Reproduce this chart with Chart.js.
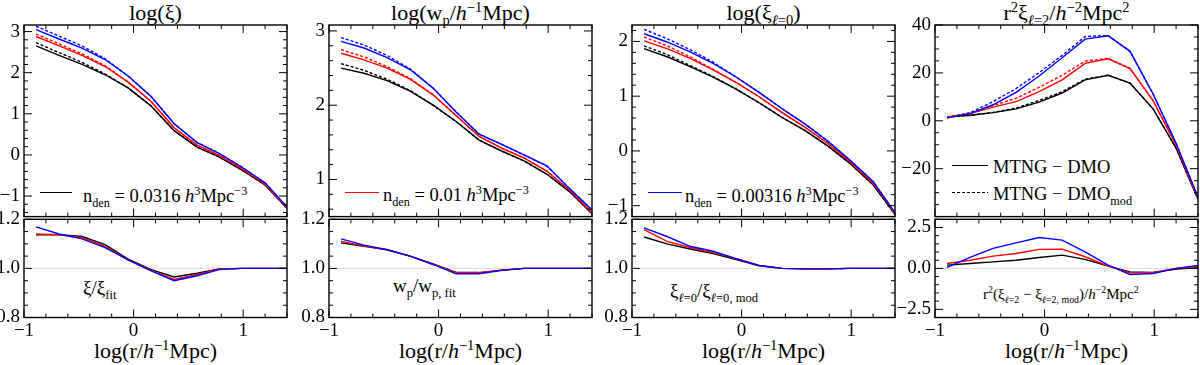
<!DOCTYPE html>
<html lang="en">
<head>
<meta charset="UTF-8">
<title>MTNG vs DMO clustering</title>
<script src="https://cdn.jsdelivr.net/npm/chart.js"></script>
<style>
  body { margin: 0; background: #fff; }
  #wrap { position: relative; width: 1200px; height: 365px; overflow: hidden;
          font-family: "Liberation Serif", "Times New Roman", serif; color: #000; }
  canvas { position: absolute; }
  .t { position: absolute; white-space: nowrap; line-height: 1; }
  .ttl { font-size: 22px; text-align: center; top: 1.6px; width: 263px; }
  .xt { font-size: 22px; text-align: center; top: 339.6px; width: 263px; }
  .lg { font-size: 18.5px; }
  .sm { font-size: 19px; }
  sub, sup { font-size: 0.66em; line-height: 0; }
  .ln { position: absolute; height: 1px; width: 34px; }
</style>
</head>
<body>
<div id="wrap">
  <!-- panel titles -->
  <div class="t ttl" style="left:24px">log(ξ)</div>
  <div class="t ttl" style="left:329px">log(w<sub>p</sub>/<i>h</i><sup>−1</sup>Mpc)</div>
  <div class="t ttl" style="left:632px">log(ξ<sub><i>ℓ</i>=0</sub>)</div>
  <div class="t ttl" style="left:935px">r<sup>2</sup>ξ<sub><i>ℓ</i>=2</sub>/<i>h</i><sup>−2</sup>Mpc<sup>2</sup></div>

  <!-- x axis titles -->
  <div class="t xt" style="left:24px">log(r/<i>h</i><sup>−1</sup>Mpc)</div>
  <div class="t xt" style="left:329px">log(r/<i>h</i><sup>−1</sup>Mpc)</div>
  <div class="t xt" style="left:632px">log(r/<i>h</i><sup>−1</sup>Mpc)</div>
  <div class="t xt" style="left:935px">log(r/<i>h</i><sup>−1</sup>Mpc)</div>

  <!-- legends -->
  <div class="ln" style="left:40px;top:192px;width:32px;background:#000"></div>
  <div class="t lg" style="left:83px;top:186.5px">n<sub>den</sub> = 0.0316 <i>h</i><sup>3</sup>Mpc<sup>−3</sup></div>
  <div class="ln" style="left:345px;top:191.5px;background:#f00"></div>
  <div class="t lg" style="left:383px;top:185.5px">n<sub>den</sub> = 0.01 <i>h</i><sup>3</sup>Mpc<sup>−3</sup></div>
  <div class="ln" style="left:648px;top:191.5px;background:#00f"></div>
  <div class="t lg" style="left:685px;top:186.5px">n<sub>den</sub> = 0.00316 <i>h</i><sup>3</sup>Mpc<sup>−3</sup></div>
  <div class="ln" style="left:952px;top:165px;width:36px;background:#000"></div>
  <div class="t lg" style="left:993px;top:157.5px">MTNG − DMO</div>
  <div class="ln" style="left:952px;top:192px;width:36px;background:repeating-linear-gradient(to right,#000 0 3px,transparent 3px 5px)"></div>
  <div class="t lg" style="left:993px;top:184.5px">MTNG − DMO<sub>mod</sub></div>

  <!-- ratio labels -->
  <div class="t sm" style="left:83px;top:278px">ξ/ξ<sub>fit</sub></div>
  <div class="t sm" style="left:393px;top:276px">w<sub>p</sub>/w<sub>p, fit</sub></div>
  <div class="t sm" style="left:670px;top:281px">ξ<sub><i>ℓ</i>=0</sub>/ξ<sub><i>ℓ</i>=0, mod</sub></div>
  <div class="t" style="left:983px;top:287.4px;font-size:15px">r<sup>2</sup>(ξ<sub><i>ℓ</i>=2</sub> − ξ<sub><i>ℓ</i>=2, mod</sub>)/<i>h</i><sup>−2</sup>Mpc<sup>2</sup></div>
</div>

<script>
// separation bins
const logR = [-0.89, -0.68, -0.47, -0.26, -0.05, 0.16, 0.37, 0.58, 0.78, 0.99, 1.2, 1.4];

// log(xi)
const xiBlack    = [2.65, 2.42, 2.20, 1.95, 1.63, 1.19, 0.59, 0.19, -0.05, -0.37, -0.73, -1.30];
const xiRed      = [2.88, 2.65, 2.42, 2.15, 1.77, 1.30, 0.66, 0.24, -0.01, -0.34, -0.71, -1.29];
const xiBlue     = [3.05, 2.82, 2.60, 2.32, 1.92, 1.42, 0.76, 0.30, 0.04, -0.30, -0.68, -1.27];
const xiBlackMod = [2.73, 2.49, 2.25, 1.97, 1.63, 1.19, 0.59, 0.19, -0.05, -0.37, -0.73, -1.30];
const xiRedMod   = [2.94, 2.70, 2.46, 2.17, 1.77, 1.30, 0.66, 0.24, -0.01, -0.34, -0.71, -1.29];
const xiBlueMod  = [3.13, 2.89, 2.65, 2.34, 1.92, 1.42, 0.76, 0.30, 0.04, -0.30, -0.68, -1.27];
const xiRatBlack = [1.137, 1.137, 1.13, 1.097, 1.038, 0.995, 0.965, 0.98, 0.998, 1.0, 1.0, 1.0];
const xiRatRed   = [1.14, 1.137, 1.125, 1.09, 1.035, 0.992, 0.955, 0.975, 0.997, 1.0, 1.0, 1.0];
const xiRatBlue  = [1.169, 1.14, 1.12, 1.085, 1.035, 0.99, 0.95, 0.97, 0.995, 1.0, 1.0, 1.0];

// log(wp)
const wpBlack    = [2.50, 2.43, 2.33, 2.19, 2.00, 1.78, 1.53, 1.38, 1.25, 1.07, 0.83, 0.54];
const wpRed      = [2.70, 2.61, 2.50, 2.35, 2.14, 1.86, 1.58, 1.42, 1.29, 1.11, 0.85, 0.55];
const wpBlue     = [2.86, 2.77, 2.64, 2.48, 2.23, 1.91, 1.61, 1.47, 1.33, 1.18, 0.87, 0.59];
const wpBlackMod = [2.56, 2.47, 2.35, 2.20, 2.00, 1.78, 1.53, 1.38, 1.25, 1.07, 0.83, 0.54];
const wpRedMod   = [2.75, 2.65, 2.52, 2.36, 2.14, 1.86, 1.58, 1.42, 1.29, 1.11, 0.85, 0.55];
const wpBlueMod  = [2.91, 2.81, 2.67, 2.49, 2.23, 1.91, 1.61, 1.47, 1.33, 1.18, 0.87, 0.59];
const wpRatBlack = [1.104, 1.09, 1.076, 1.05, 1.018, 0.984, 0.983, 0.993, 1.0, 1.0, 1.0, 1.0];
const wpRatRed   = [1.11, 1.092, 1.076, 1.05, 1.017, 0.982, 0.982, 0.993, 1.0, 1.0, 1.0, 1.0];
const wpRatBlue  = [1.12, 1.095, 1.076, 1.05, 1.016, 0.978, 0.978, 0.992, 1.0, 1.0, 1.0, 1.0];

// log(xi_0)
const x0Black    = [1.87, 1.72, 1.54, 1.35, 1.13, 0.88, 0.61, 0.37, 0.10, -0.23, -0.62, -1.16];
const x0Red      = [2.01, 1.87, 1.69, 1.48, 1.25, 0.99, 0.70, 0.43, 0.15, -0.20, -0.59, -1.15];
const x0Blue     = [2.14, 1.99, 1.81, 1.60, 1.35, 1.07, 0.77, 0.49, 0.19, -0.17, -0.56, -1.13];
const x0BlackMod = [1.92, 1.76, 1.56, 1.36, 1.13, 0.88, 0.61, 0.37, 0.10, -0.23, -0.62, -1.16];
const x0RedMod   = [2.08, 1.92, 1.72, 1.49, 1.25, 0.99, 0.70, 0.43, 0.15, -0.20, -0.59, -1.15];
const x0BlueMod  = [2.22, 2.05, 1.85, 1.62, 1.35, 1.07, 0.77, 0.49, 0.19, -0.17, -0.56, -1.13];
const x0RatBlack = [1.128, 1.10, 1.079, 1.06, 1.036, 1.011, 1.0, 0.998, 0.998, 1.0, 1.0, 1.0];
const x0RatRed   = [1.158, 1.11, 1.085, 1.065, 1.04, 1.012, 1.0, 0.998, 0.998, 1.0, 1.0, 1.0];
const x0RatBlue  = [1.165, 1.13, 1.09, 1.07, 1.04, 1.012, 1.0, 0.998, 0.998, 1.0, 1.0, 1.0];

// r^2 xi_2
const q2Black    = [1.6, 2.3, 3.4, 5.0, 7.8, 11.6, 17.1, 19.0, 15.7, 5.0, -11.4, -32.7];
const q2Red      = [1.6, 3.0, 5.7, 8.0, 12.2, 17.1, 24.0, 25.9, 21.8, 8.4, -10.1, -32.7];
const q2Blue     = [1.2, 3.0, 6.7, 11.9, 18.7, 26.3, 34.1, 35.5, 29.0, 11.2, -9.4, -32.0];
const q2BlackMod = [1.6, 2.3, 3.5, 5.3, 8.5, 12.1, 17.4, 19.0, 15.7, 5.0, -11.4, -32.7];
const q2RedMod   = [1.6, 3.2, 6.4, 9.4, 14.0, 19.0, 24.9, 26.1, 21.8, 8.4, -10.1, -32.7];
const q2BlueMod  = [1.2, 3.4, 8.0, 13.5, 20.1, 27.3, 35.2, 35.6, 29.0, 11.2, -9.4, -32.0];
const q2DifBlack = [0.2, 0.3, 0.4, 0.5, 0.67, 0.81, 0.55, 0.14, -0.21, -0.25, -0.04, 0.04];
const q2DifRed   = [0.3, 0.5, 0.75, 0.91, 1.16, 1.18, 0.71, 0.14, -0.27, -0.25, 0.0, 0.1];
const q2DifBlue  = [0.06, 0.67, 1.22, 1.56, 1.89, 1.73, 1.01, 0.2, -0.37, -0.31, 0.0, 0.18];

// reference lines in ratio panels
const refX = [-1, 1.4];
const refOne = [1, 1];
const refZero = [0, 0];

// ticks
const xTicks = [-1, 0, 1];
const xTickLabels = ['−1', '0', '1'];
const xiTicks = [-1, 0, 1, 2, 3];
const xiTickLabels = ['−1', '0', '1', '2', '3'];
const wpTicks = [1, 2, 3];
const wpTickLabels = ['1', '2', '3'];
const x0Ticks = [-1, 0, 1, 2];
const x0TickLabels = ['−1', '0', '1', '2'];
const q2Ticks = [-20, 0, 20, 40];
const q2TickLabels = ['−20', '0', '20', '40'];
const ratTicks = [0.8, 1.0, 1.2];
const ratTickLabels = ['0.8', '1.0', '1.2'];
const difTicks = [-2.5, 0, 2.5];
const difTickLabels = ['−2.5', '0.0', '2.5'];

Chart.defaults.font.family = 'Liberation Serif';
const FONT = {family: 'Liberation Serif', size: 19};

// frame + inward ticks on all four sides
const frameTicks = {
    id: 'frameTicks',
    afterDatasetsDraw(chart, args, o) {
        const ctx = chart.ctx, a = chart.chartArea;
        const sx = chart.scales.x, sy = chart.scales.y;
        function marks(scale, major, step) {
            const out = major.map(v => [v, 8]);
            for (let k = Math.ceil(scale.min / step - 1e-6); k * step <= scale.max + 1e-9; k++) {
                const v = k * step;
                if (!major.some(m => Math.abs(m - v) < step / 10)) out.push([v, 4]);
            }
            return out;
        }
        ctx.save();
        ctx.strokeStyle = '#000';
        ctx.lineWidth = 1;
        ctx.beginPath();
        marks(sx, o.xMajor, o.xMinor).forEach(([v, len]) => {
            const p = sx.getPixelForValue(v);
            ctx.moveTo(p, a.top); ctx.lineTo(p, a.top + len);
            ctx.moveTo(p, a.bottom); ctx.lineTo(p, a.bottom - len);
        });
        marks(sy, o.yMajor, o.yMinor).forEach(([v, len]) => {
            const p = sy.getPixelForValue(v);
            ctx.moveTo(a.left, p); ctx.lineTo(a.left + len, p);
            ctx.moveTo(a.right, p); ctx.lineTo(a.right - len, p);
        });
        ctx.stroke();
        ctx.lineWidth = 1.4;
        ctx.strokeRect(a.left, a.top, a.right - a.left, a.bottom - a.top);
        ctx.restore();
    }
};

function line(ys, color, dashed, order, xs) {
    xs = xs || logR;
    return {
        data: xs.map((x, i) => ({x: x, y: ys[i]})),
        borderColor: color,
        borderWidth: dashed === 'ref' ? 1 : 1.4,
        borderDash: dashed === true ? [3, 2] : [],
        pointRadius: 0,
        tension: 0,
        fill: false,
        order: order
    };
}

const AXW = 45;

function makeChart(col, top, height, datasets, o) {
    const c = document.createElement('canvas');
    const w = col.R - col.L + AXW + 10;
    c.width = w; c.height = height;
    c.style.left = (col.L - AXW) + 'px';
    c.style.top = top + 'px';
    document.getElementById('wrap').appendChild(c);
    return new Chart(c, {
        type: 'line',
        data: {datasets: datasets},
        options: {
            responsive: false,
            animation: false,
            events: [],
            layout: {autoPadding: false, padding: {left: 0, right: 10, top: o.padTop, bottom: o.padBottom}},
            plugins: {
                legend: {display: false},
                tooltip: {enabled: false},
                frameTicks: {xMajor: xTicks, xMinor: 0.2, yMajor: o.yTicks, yMinor: o.yMinor}
            },
            scales: {
                x: {
                    type: 'linear', min: -1, max: 1.4,
                    display: o.showX,
                    grid: {display: false, drawTicks: false},
                    border: {display: false},
                    ticks: {font: FONT, color: '#000', padding: 2, autoSkip: false, maxRotation: 0,
                        callback: (v, i) => xTickLabels[i]},
                    afterBuildTicks: s => { s.ticks = xTicks.map(v => ({value: v})); },
                    afterFit: s => { s.height = o.showX ? 28 : 0; }
                },
                y: {
                    type: 'linear', min: o.yMin, max: o.yMax,
                    grid: {display: false, drawTicks: false},
                    border: {display: false},
                    ticks: {font: FONT, color: '#000', padding: 4, autoSkip: false,
                        callback: (v, i) => o.yLabels[i]},
                    afterBuildTicks: s => { s.ticks = o.yTicks.map(v => ({value: v})); },
                    afterFit: s => { s.width = AXW; }
                }
            }
        },
        plugins: [frameTicks]
    });
}

const cols = [{L: 24, R: 287}, {L: 329, R: 592}, {L: 632, R: 895}, {L: 935, R: 1198}];
const TOP_H = 232, PLOT_TOP = 25, MID = 219.3, BOT_TOP = 200, BOT_H = 150, PLOT_BOT = 317.5;

function topPanel(col, sets, yMin, yMax, yTicks, yLabels, yMinor) {
    makeChart(col, 0, TOP_H, sets, {
        padTop: PLOT_TOP, padBottom: TOP_H - MID, showX: false,
        yMin: yMin, yMax: yMax, yTicks: yTicks, yLabels: yLabels, yMinor: yMinor
    });
}

function botPanel(col, sets, yMin, yMax, yTicks, yLabels, yMinor) {
    makeChart(col, BOT_TOP, BOT_H, sets, {
        padTop: MID - BOT_TOP, padBottom: BOT_H - (PLOT_BOT - BOT_TOP) - 28, showX: true,
        yMin: yMin, yMax: yMax, yTicks: yTicks, yLabels: yLabels, yMinor: yMinor
    });
}

function trio(b, r, u, bm, rm, um) {
    return [
        line(u, '#0000ff', false, 0), line(r, '#ff0000', false, 1), line(b, '#000000', false, 2),
        line(um, '#0000ff', true, 3), line(rm, '#ff0000', true, 4), line(bm, '#000000', true, 5)
    ];
}

function ratios(b, r, u, refY) {
    return [
        line(u, '#0000ff', false, 0), line(r, '#ff0000', false, 1), line(b, '#000000', false, 2),
        line(refY, '#d9d9d9', 'ref', 10, refX)
    ];
}

function drawAll() {
    topPanel(cols[0], trio(xiBlack, xiRed, xiBlue, xiBlackMod, xiRedMod, xiBlueMod), -1.5, 3.16, xiTicks, xiTickLabels, 0.2);
    topPanel(cols[1], trio(wpBlack, wpRed, wpBlue, wpBlackMod, wpRedMod, wpBlueMod), 0.5, 3.08, wpTicks, wpTickLabels, 0.2);
    topPanel(cols[2], trio(x0Black, x0Red, x0Blue, x0BlackMod, x0RedMod, x0BlueMod), -1.2, 2.3, x0Ticks, x0TickLabels, 0.2);
    topPanel(cols[3], trio(q2Black, q2Red, q2Blue, q2BlackMod, q2RedMod, q2BlueMod), -40, 40, q2Ticks, q2TickLabels, 5);

    botPanel(cols[0], ratios(xiRatBlack, xiRatRed, xiRatBlue, refOne), 0.8, 1.2, ratTicks, ratTickLabels, 0.05);
    botPanel(cols[1], ratios(wpRatBlack, wpRatRed, wpRatBlue, refOne), 0.8, 1.2, ratTicks, ratTickLabels, 0.05);
    botPanel(cols[2], ratios(x0RatBlack, x0RatRed, x0RatBlue, refOne), 0.8, 1.2, ratTicks, ratTickLabels, 0.05);
    botPanel(cols[3], ratios(q2DifBlack, q2DifRed, q2DifBlue, refZero), -3, 3, difTicks, difTickLabels, 0.5);
}

// make sure the serif face is ready before the canvases draw text
document.fonts.load('19px "Liberation Serif"').then(drawAll, drawAll);
</script>
</body>
</html>
